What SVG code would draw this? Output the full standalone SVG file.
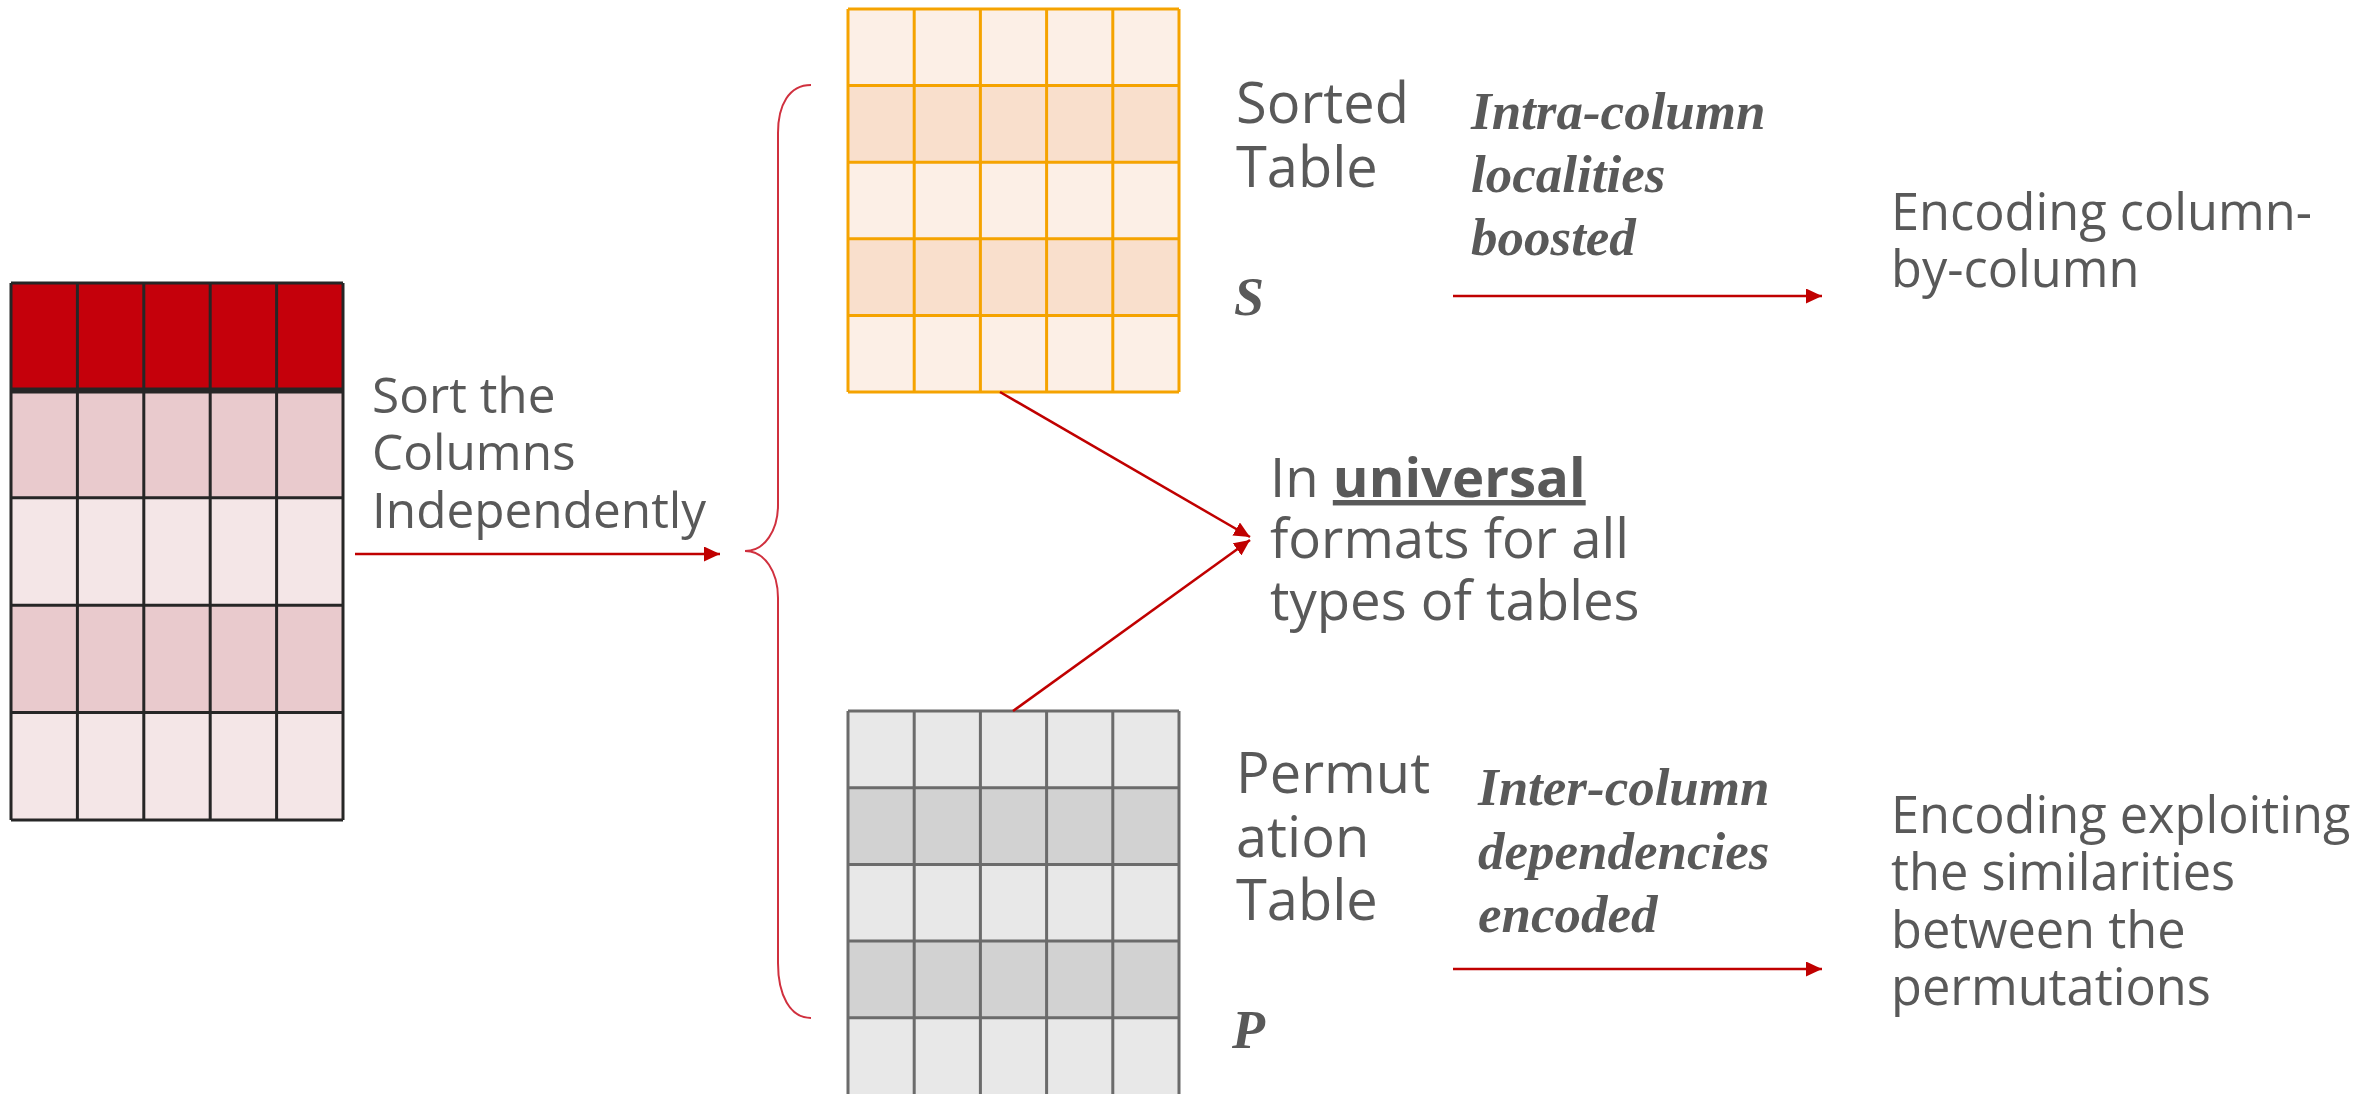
<svg xmlns="http://www.w3.org/2000/svg" width="2376" height="1094" viewBox="0 0 2376 1094">
<style>
.t{font-family:"Open Sans","Noto Sans","Liberation Sans",sans-serif;fill:#595959}
.s{font-family:"Liberation Serif","Times New Roman",serif;font-style:italic;font-weight:bold;fill:#595959}
.conn{stroke:#C00000;stroke-width:2.5;fill:none}
</style>
<defs>
<marker id="ah" markerUnits="userSpaceOnUse" markerWidth="17" markerHeight="15" refX="16" refY="7.5" orient="auto">
<path d="M0,0 L16,7.5 L0,15 z" fill="#C00000"/>
</marker>
</defs>
<rect width="2376" height="1094" fill="#fff"/>

<g id="original-table">
<rect x="11" y="283" width="332" height="107.4" fill="#C5000B"/>
<rect x="11" y="390.4" width="332" height="107.4" fill="#E9CACD"/>
<rect x="11" y="497.8" width="332" height="107.4" fill="#F4E6E7"/>
<rect x="11" y="605.2" width="332" height="107.4" fill="#E9CACD"/>
<rect x="11" y="712.6" width="332" height="107.4" fill="#F4E6E7"/>
<path d="M11,283V820M77.4,283V820M143.8,283V820M210.2,283V820M276.6,283V820M343,283V820M11,283H343M11,497.8H343M11,605.2H343M11,712.6H343M11,820H343" stroke="#262626" stroke-width="3" fill="none"/>
<path d="M11,390.4H343" stroke="#262626" stroke-width="6"/>
</g>

<g id="sort-label">
<text class="t" font-size="49.5"><tspan x="372" y="413">Sort the</tspan><tspan x="372" y="470">Columns</tspan><tspan x="372" y="528">Independently</tspan></text>
</g>

<g id="sorted-table">
<rect x="848" y="9" width="331" height="76.6" fill="#FCEFE6"/>
<rect x="848" y="85.6" width="331" height="76.6" fill="#F9DFCC"/>
<rect x="848" y="162.2" width="331" height="76.6" fill="#FCEFE6"/>
<rect x="848" y="238.8" width="331" height="76.6" fill="#F9DFCC"/>
<rect x="848" y="315.4" width="331" height="76.6" fill="#FCEFE6"/>
<path d="M848,9V392M914.2,9V392M980.4,9V392M1046.6,9V392M1112.8,9V392M1179,9V392M848,9H1179M848,85.6H1179M848,162.2H1179M848,238.8H1179M848,315.4H1179M848,392H1179" stroke="#F5A300" stroke-width="3" fill="none"/>
</g>

<g id="sorted-label">
<text class="t" font-size="56"><tspan x="1236" y="123">Sorted</tspan><tspan x="1236" y="187">Table</tspan></text>
<text class="s" font-size="54" x="1234" y="315">S</text>
</g>

<g id="permutation-table">
<rect x="848" y="711" width="331" height="76.7" fill="#E8E8E8"/>
<rect x="848" y="787.7" width="331" height="76.7" fill="#D2D2D2"/>
<rect x="848" y="864.4" width="331" height="76.7" fill="#E8E8E8"/>
<rect x="848" y="941.1" width="331" height="76.7" fill="#D2D2D2"/>
<rect x="848" y="1017.8" width="331" height="76.7" fill="#E8E8E8"/>
<path d="M848,711V1096M914.2,711V1096M980.4,711V1096M1046.6,711V1096M1112.8,711V1096M1179,711V1096M848,711H1179M848,787.7H1179M848,864.4H1179M848,941.1H1179M848,1017.8H1179" stroke="#6B6B6B" stroke-width="3" fill="none"/>
</g>

<g id="permutation-label">
<text class="t" font-size="56"><tspan x="1236" y="793">Permut</tspan><tspan x="1236" y="857">ation</tspan><tspan x="1236" y="920">Table</tspan></text>
<text class="s" font-size="54" x="1232" y="1048">P</text>
</g>

<g id="universal-label">
<text class="t" font-size="54.5"><tspan x="1270" y="497">In <tspan font-weight="bold" text-decoration="underline">universal</tspan></tspan><tspan x="1270" y="558">formats for all</tspan><tspan x="1270" y="620">types of tables</tspan></text>
</g>

<g id="intra-label">
<text class="s" font-size="53"><tspan x="1471" y="129">Intra-column</tspan><tspan x="1471" y="192">localities</tspan><tspan x="1471" y="255">boosted</tspan></text>
</g>

<g id="inter-label">
<text class="s" font-size="53"><tspan x="1478" y="805">Inter-column</tspan><tspan x="1478" y="869">dependencies</tspan><tspan x="1478" y="932">encoded</tspan></text>
</g>

<g id="encode-sorted">
<text class="t" font-size="50.5"><tspan x="1891" y="230">Encoding column-</tspan><tspan x="1891" y="287">by-column</tspan></text>
</g>

<g id="encode-perm">
<text class="t" font-size="50.5"><tspan x="1891" y="833">Encoding exploiting</tspan><tspan x="1891" y="890">the similarities</tspan><tspan x="1891" y="948">between the</tspan><tspan x="1891" y="1005">permutations</tspan></text>
</g>

<g id="connectors">
<path class="conn" d="M355,554H720" marker-end="url(#ah)"/>
<path d="M811,85C789,85 778,105 778,133V505C778,530 765,551 745,551C765,551 778,572 778,598V963C778,995 790,1018 811,1018" stroke="#D0303E" stroke-width="2" fill="none"/>
<path class="conn" d="M1000,392L1250,537" marker-end="url(#ah)"/>
<path class="conn" d="M1013,711L1250,540" marker-end="url(#ah)"/>
<path class="conn" d="M1453,296H1822" marker-end="url(#ah)"/>
<path class="conn" d="M1453,969H1822" marker-end="url(#ah)"/>
</g>
</svg>
